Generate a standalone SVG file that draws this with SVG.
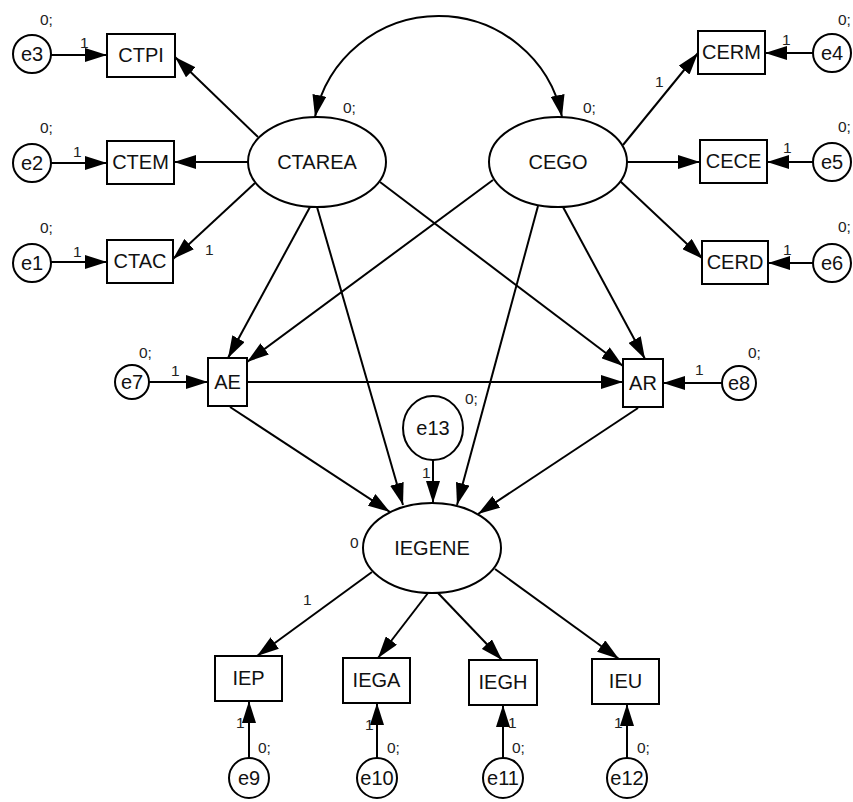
<svg xmlns="http://www.w3.org/2000/svg" width="853" height="802" viewBox="0 0 853 802">
  <style>
    .box { fill: #fff; stroke: #000; stroke-width: 2; }
    .lat { fill: #fff; stroke: #000; stroke-width: 2; }
    .err { fill: #fff; stroke: #000; stroke-width: 2; }
    .lbl { font-family: "Liberation Sans", Arial, sans-serif; font-size: 20px; fill: #111; text-anchor: middle; }
    .num { font-family: "Liberation Sans", Arial, sans-serif; font-size: 15.5px; fill: #222; }
    .path { fill: none; stroke: #000; stroke-width: 2; marker-end: url(#head); }
  </style>
  <defs>
    <marker id="head" markerUnits="userSpaceOnUse" markerWidth="22" markerHeight="14" viewBox="0 0 22 14" refX="22" refY="7" orient="auto-start-reverse">
      <path d="M0,0 L22,7 L0,14 z" fill="#000"/>
    </marker>
  </defs>

  <rect width="853" height="802" fill="#fff"/>

  <!-- paths between variables -->
  <g id="connectors">
    <!-- covariance between the two exogenous latents -->
    <path class="path" d="M315,117 A126,126 0 0 1 562,117" marker-start="url(#head)"/>
    <!-- measurement errors, left block -->
    <line class="path" x1="51" y1="55" x2="107" y2="55"/>
    <line class="path" x1="51" y1="163" x2="107" y2="163"/>
    <line class="path" x1="51" y1="262" x2="107" y2="262"/>
    <!-- CTAREA loadings -->
    <line class="path" x1="258" y1="137" x2="175" y2="57"/>
    <line class="path" x1="248" y1="162" x2="174" y2="162"/>
    <line class="path" x1="255" y1="183" x2="173" y2="259"/>
    <!-- CEGO loadings -->
    <line class="path" x1="623" y1="145" x2="698" y2="53"/>
    <line class="path" x1="627" y1="162" x2="700" y2="162"/>
    <line class="path" x1="620" y1="181" x2="703" y2="259"/>
    <!-- measurement errors, right block -->
    <line class="path" x1="813" y1="53" x2="765" y2="53"/>
    <line class="path" x1="813" y1="162" x2="767" y2="162"/>
    <line class="path" x1="813" y1="263" x2="768" y2="263"/>
    <!-- structural paths -->
    <line class="path" x1="310" y1="207" x2="228" y2="358"/>
    <line class="path" x1="493" y1="180" x2="247" y2="362"/>
    <line class="path" x1="380" y1="182" x2="623" y2="366"/>
    <line class="path" x1="563" y1="207" x2="645" y2="359"/>
    <line class="path" x1="317" y1="207" x2="403" y2="505"/>
    <line class="path" x1="538" y1="206" x2="457" y2="505"/>
    <line class="path" x1="149" y1="382" x2="208" y2="382"/>
    <line class="path" x1="722" y1="383" x2="663" y2="383"/>
    <line class="path" x1="247" y1="382" x2="623" y2="382"/>
    <line class="path" x1="230" y1="407" x2="390" y2="512"/>
    <line class="path" x1="638" y1="408" x2="478" y2="514"/>
    <line class="path" x1="433" y1="460" x2="433" y2="503"/>
    <!-- IEGENE loadings -->
    <line class="path" x1="372" y1="572" x2="257" y2="656"/>
    <line class="path" x1="428" y1="593" x2="378" y2="658"/>
    <line class="path" x1="438" y1="593" x2="502" y2="660"/>
    <line class="path" x1="495" y1="569" x2="619" y2="659"/>
    <!-- measurement errors, bottom row -->
    <line class="path" x1="249" y1="758" x2="249" y2="701"/>
    <line class="path" x1="377" y1="758" x2="377" y2="703"/>
    <line class="path" x1="503" y1="758" x2="503" y2="705"/>
    <line class="path" x1="627" y1="758" x2="627" y2="704"/>
  </g>

  <!-- path and variance labels -->
  <g id="labels">
    <text class="num" x="40" y="25">0;</text>
    <text class="num" x="80" y="48">1</text>
    <text class="num" x="40" y="133">0;</text>
    <text class="num" x="73" y="157">1</text>
    <text class="num" x="40" y="233">0;</text>
    <text class="num" x="73" y="257">1</text>
    <text class="num" x="205" y="255">1</text>
    <text class="num" x="343" y="113">0;</text>
    <text class="num" x="583" y="113">0;</text>
    <text class="num" x="655" y="87">1</text>
    <text class="num" x="782" y="45">1</text>
    <text class="num" x="838" y="25">0;</text>
    <text class="num" x="783" y="153">1</text>
    <text class="num" x="838" y="132">0;</text>
    <text class="num" x="783" y="255">1</text>
    <text class="num" x="838" y="232">0;</text>
    <text class="num" x="139" y="358">0;</text>
    <text class="num" x="171" y="376">1</text>
    <text class="num" x="695" y="375">1</text>
    <text class="num" x="748" y="358">0;</text>
    <text class="num" x="465" y="404">0;</text>
    <text class="num" x="422" y="478">1</text>
    <text class="num" x="350" y="548">0</text>
    <text class="num" x="303" y="605">1</text>
    <text class="num" x="236" y="728">1</text>
    <text class="num" x="258" y="753">0;</text>
    <text class="num" x="365" y="730">1</text>
    <text class="num" x="387" y="753">0;</text>
    <text class="num" x="508" y="728">1</text>
    <text class="num" x="512" y="753">0;</text>
    <text class="num" x="614" y="728">1</text>
    <text class="num" x="637" y="753">0;</text>
  </g>

  <!-- latent variables -->
  <g id="CTAREA"><ellipse class="lat" cx="317" cy="162" rx="69" ry="45"/><text class="lbl" x="317" y="169">CTAREA</text></g>
  <g id="CEGO"><ellipse class="lat" cx="558" cy="162" rx="69" ry="45"/><text class="lbl" x="558" y="169">CEGO</text></g>
  <g id="IEGENE"><ellipse class="lat" cx="432" cy="548" rx="69" ry="45"/><text class="lbl" x="432" y="555">IEGENE</text></g>

  <!-- observed variables -->
  <g id="CTPI"><rect class="box" x="107" y="34" width="68" height="43"/><text class="lbl" x="141" y="62">CTPI</text></g>
  <g id="CTEM"><rect class="box" x="107" y="141" width="67" height="43"/><text class="lbl" x="140.5" y="169">CTEM</text></g>
  <g id="CTAC"><rect class="box" x="107" y="240" width="66" height="43"/><text class="lbl" x="140" y="268">CTAC</text></g>
  <g id="CERM"><rect class="box" x="698" y="31" width="67" height="43"/><text class="lbl" x="731.5" y="59">CERM</text></g>
  <g id="CECE"><rect class="box" x="700" y="140" width="67" height="43"/><text class="lbl" x="733.5" y="168">CECE</text></g>
  <g id="CERD"><rect class="box" x="702" y="241" width="66" height="43"/><text class="lbl" x="735" y="269">CERD</text></g>
  <g id="AE"><rect class="box" x="208" y="358" width="39" height="48"/><text class="lbl" x="227.5" y="389">AE</text></g>
  <g id="AR"><rect class="box" x="623" y="359" width="40" height="48"/><text class="lbl" x="643" y="390">AR</text></g>
  <g id="IEP"><rect class="box" x="215" y="656" width="67" height="45"/><text class="lbl" x="248.5" y="685">IEP</text></g>
  <g id="IEGA"><rect class="box" x="343" y="658" width="67" height="45"/><text class="lbl" x="376.5" y="687">IEGA</text></g>
  <g id="IEGH"><rect class="box" x="469" y="660" width="68" height="45"/><text class="lbl" x="503" y="689">IEGH</text></g>
  <g id="IEU"><rect class="box" x="592" y="659" width="67" height="45"/><text class="lbl" x="625.5" y="688">IEU</text></g>

  <!-- error terms -->
  <g id="e3"><circle class="err" cx="32" cy="54" r="19"/><text class="lbl" x="32" y="61">e3</text></g>
  <g id="e2"><circle class="err" cx="32" cy="163" r="19"/><text class="lbl" x="32" y="170">e2</text></g>
  <g id="e1"><circle class="err" cx="32" cy="263" r="19"/><text class="lbl" x="32" y="270">e1</text></g>
  <g id="e4"><circle class="err" cx="832" cy="53" r="19"/><text class="lbl" x="832" y="60">e4</text></g>
  <g id="e5"><circle class="err" cx="832" cy="162" r="19"/><text class="lbl" x="832" y="169">e5</text></g>
  <g id="e6"><circle class="err" cx="832" cy="263" r="19"/><text class="lbl" x="832" y="270">e6</text></g>
  <g id="e7"><circle class="err" cx="132" cy="382" r="17"/><text class="lbl" x="132" y="389">e7</text></g>
  <g id="e8"><circle class="err" cx="739" cy="383" r="17"/><text class="lbl" x="739" y="390">e8</text></g>
  <g id="e13"><ellipse class="err" cx="433" cy="428" rx="30" ry="32"/><text class="lbl" x="433" y="435">e13</text></g>
  <g id="e9"><circle class="err" cx="249" cy="778" r="20"/><text class="lbl" x="249" y="785">e9</text></g>
  <g id="e10"><circle class="err" cx="377" cy="778" r="20"/><text class="lbl" x="377" y="785">e10</text></g>
  <g id="e11"><circle class="err" cx="503" cy="778" r="20"/><text class="lbl" x="503" y="785">e11</text></g>
  <g id="e12"><circle class="err" cx="627" cy="778" r="20"/><text class="lbl" x="627" y="785">e12</text></g>
</svg>
